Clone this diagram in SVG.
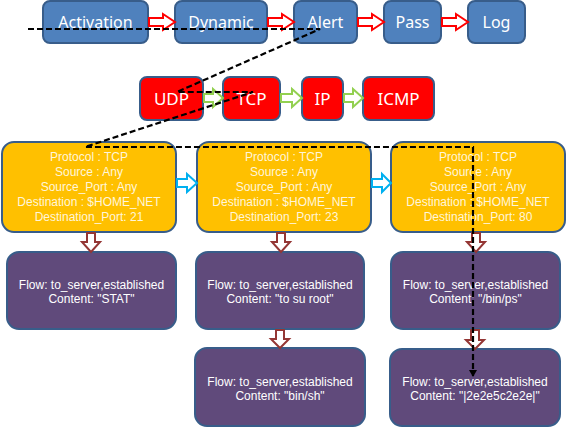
<svg xmlns="http://www.w3.org/2000/svg" width="567" height="428" viewBox="0 0 567 428">
<defs>
<style>
text{font-family:"Noto Sans","Open Sans","DejaVu Sans",sans-serif;text-anchor:middle}
.top{fill:#4F81BD;stroke:#385D8A;stroke-width:2}
.top-t{fill:#FFFFFF;font-size:16px}
.red{fill:#FF0000;stroke:#385D8A;stroke-width:2}
.red-t{fill:#FFFFFF;font-size:17px}
.yel{fill:#FFC000;stroke:#385D8A;stroke-width:2}
.yel-t{fill:#FFF6DA;font-size:12px;font-family:"Liberation Sans",Arial,sans-serif}
.pur{fill:#604A7B;stroke:#385D8A;stroke-width:2}
.pur-t{fill:#FFFFFF;font-size:12px;font-family:"Liberation Sans",Arial,sans-serif}
.ar-red{fill:#FFFFFF;stroke:#FF0000;stroke-width:2;stroke-linejoin:miter}
.ar-grn{fill:#FFFFFF;stroke:#92D050;stroke-width:2}
.ar-blu{fill:#FFFFFF;stroke:#00B0F0;stroke-width:2}
.ar-dk{fill:#FFFFFF;stroke:#943634;stroke-width:2}
.dash{fill:none;stroke:#000000;stroke-width:2.2;stroke-dasharray:6,3}
</style>
<marker id="ah" markerWidth="8" markerHeight="8" refX="6" refY="4" orient="auto" markerUnits="userSpaceOnUse">
<path d="M0,0 L7,4 L0,8 z" fill="#000"/>
</marker>
</defs>

<g id="activation"><rect class="top" x="43" y="1" width="105" height="42" rx="7"/><text class="top-t" x="95.5" y="28">Activation</text></g>
<g id="dynamic"><rect class="top" x="175" y="1" width="92" height="42" rx="7"/><text class="top-t" x="221" y="28">Dynamic</text></g>
<g id="alert"><rect class="top" x="294" y="1" width="63" height="42" rx="7"/><text class="top-t" x="325.5" y="28">Alert</text></g>
<g id="pass"><rect class="top" x="384" y="1" width="57" height="42" rx="7"/><text class="top-t" x="412.5" y="28">Pass</text></g>
<g id="log"><rect class="top" x="468" y="1" width="57" height="42" rx="7"/><text class="top-t" x="496.5" y="28">Log</text></g>

<g id="udp"><rect class="red" x="140" y="77" width="63" height="43" rx="7"/><text class="red-t" x="171.5" y="104.5">UDP</text></g>
<g id="tcp"><rect class="red" x="223" y="77" width="57" height="43" rx="7"/><text class="red-t" x="251.5" y="104.5">TCP</text></g>
<g id="ip"><rect class="red" x="302" y="77" width="41" height="43" rx="7"/><text class="red-t" x="322.5" y="104.5">IP</text></g>
<g id="icmp"><rect class="red" x="363" y="77" width="71" height="43" rx="7"/><text class="red-t" x="398.5" y="104.5">ICMP</text></g>

<g id="rule21"><rect class="yel" x="2" y="142" width="174" height="90" rx="12"/>
<text class="yel-t" x="89" y="161">Protocol : TCP</text><text class="yel-t" x="89" y="176">Source : Any</text><text class="yel-t" x="89" y="191">Source_Port : Any</text><text class="yel-t" x="89" y="206">Destination : $HOME_NET</text><text class="yel-t" x="89" y="221">Destination_Port: 21</text></g>
<g id="rule23"><rect class="yel" x="197" y="142" width="174" height="90" rx="12"/>
<text class="yel-t" x="284" y="161">Protocol : TCP</text><text class="yel-t" x="284" y="176">Source : Any</text><text class="yel-t" x="284" y="191">Source_Port : Any</text><text class="yel-t" x="284" y="206">Destination : $HOME_NET</text><text class="yel-t" x="284" y="221">Destination_Port: 23</text></g>
<g id="rule80"><rect class="yel" x="391" y="142" width="174" height="90" rx="12"/>
<text class="yel-t" x="478" y="161">Protocol : TCP</text><text class="yel-t" x="478" y="176">Source : Any</text><text class="yel-t" x="478" y="191">Source_Port : Any</text><text class="yel-t" x="478" y="206">Destination : $HOME_NET</text><text class="yel-t" x="478" y="221">Destination_Port: 80</text></g>

<g id="flow-stat"><rect class="pur" x="7" y="252" width="169" height="77" rx="12"/><text class="pur-t" x="91.5" y="289">Flow: to_server,established</text><text class="pur-t" x="91.5" y="303">Content: "STAT"</text></g>
<g id="flow-su"><rect class="pur" x="196" y="252" width="168" height="77" rx="12"/><text class="pur-t" x="280" y="289">Flow: to_server,established</text><text class="pur-t" x="280" y="303">Content: "to su root"</text></g>
<g id="flow-ps"><rect class="pur" x="391" y="252" width="169" height="77" rx="12"/><text class="pur-t" x="475.5" y="289">Flow: to_server,established</text><text class="pur-t" x="475.5" y="303">Content: "/bin/ps"</text></g>
<g id="flow-sh"><rect class="pur" x="195" y="348" width="170" height="78" rx="12"/><text class="pur-t" x="280" y="386">Flow: to_server,established</text><text class="pur-t" x="280" y="400">Content: "bin/sh"</text></g>
<g id="flow-hex"><rect class="pur" x="390" y="349" width="170" height="77" rx="12"/><text class="pur-t" x="475" y="386">Flow: to_server,established</text><text class="pur-t" x="475" y="400">Content: "|2e2e5c2e2e|"</text></g>

<g id="connectors">
<polygon class="ar-red" points="149,18 163,18 163,14 175,22 163,30 163,26 149,26"/>
<polygon class="ar-red" points="268,18 282,18 282,14 294,22 282,30 282,26 268,26"/>
<polygon class="ar-red" points="358,18 372,18 372,14 384,22 372,30 372,26 358,26"/>
<polygon class="ar-red" points="442,18 456,18 456,14 468,22 456,30 456,26 442,26"/>
<polygon class="ar-grn" points="204,94 213,94 213,89 223,98 213,107 213,102 204,102"/>
<polygon class="ar-grn" points="281,94 292,94 292,89 302,98 292,107 292,102 281,102"/>
<polygon class="ar-grn" points="344,94 353,94 353,89 363,98 353,107 353,102 344,102"/>
<polygon class="ar-blu" points="177,179 187,179 187,174 197,183 187,192 187,187 177,187"/>
<polygon class="ar-blu" points="372,179 382,179 382,174 391,183 382,192 382,187 372,187"/>
<polygon class="ar-dk" points="87,233 87,242 82,242 91,252 100,242 95,242 95,233"/>
<polygon class="ar-dk" points="277,233 277,242 272,242 281,252 290,242 285,242 285,233"/>
<polygon class="ar-dk" points="472,233 472,242 467,242 476,252 485,242 480,242 480,233"/>
<polygon class="ar-dk" points="276,330 276,339 271,339 280,348 289,339 284,339 284,330"/>
<polygon class="ar-dk" points="471,330 471,340 466,340 475,349 484,340 479,340 479,330"/>
<path class="dash" d="M28,29 H320 L177,92 H253 L85,147 H473 V376" marker-end="url(#ah)"/>
</g>
</svg>
